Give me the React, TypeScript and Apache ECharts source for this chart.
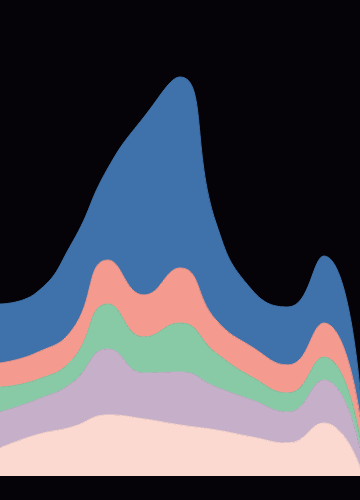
import React, { useEffect, useRef } from "react";
import * as echarts from "echarts";

const categories = ["1", "2", "3", "4", "5", "6", "7", "8", "9", "10", "11"];
const pinkValues = [28, 41, 49, 61, 57, 51, 46, 39, 33, 53, 9];
const lilacValues = [36, 35, 44, 66, 46, 53, 43, 37, 31, 43, 19];
const greenValues = [25, 20, 23, 45, 36, 49, 34, 23, 19, 23, 11];
const salmonValues = [24, 27, 30, 44, 42, 55, 33, 30, 28, 34, 20];
const blueValues = [59, 60, 87, 92, 178, 191, 97, 57, 58, 67, 27];

const seriesDefs = [
  { name: "A", data: pinkValues, color: "#fbd9d0" },
  { name: "B", data: lilacValues, color: "#c6b0c9" },
  { name: "C", data: greenValues, color: "#88c9a6" },
  { name: "D", data: salmonValues, color: "#f49a8e" },
  { name: "E", data: blueValues, color: "#3f72aa" },
];

export default function App() {
  const ref = useRef<HTMLDivElement>(null);
  useEffect(() => {
    if (!ref.current) return;
    const chart = echarts.init(ref.current, undefined, { renderer: "svg" });
    chart.setOption({
      animation: false,
      backgroundColor: "#050308",
      grid: { left: 0, right: 0, top: 76, bottom: 24 },
      xAxis: { type: "category", data: categories, boundaryGap: false, show: false },
      yAxis: { type: "value", min: 0, max: 400, show: false },
      series: seriesDefs.map((s) => ({
        name: s.name,
        type: "line",
        stack: "total",
        smooth: true,
        symbol: "none",
        data: s.data,
        lineStyle: { width: 1, color: s.color },
        areaStyle: { color: s.color, opacity: 1 },
        itemStyle: { color: s.color },
      })),
    });
    return () => chart.dispose();
  }, []);
  return (
    <div style={{ position: "fixed", inset: 0, background: "#050308" }}>
      <div ref={ref} style={{ width: 360, height: 500 }} />
    </div>
  );
}
